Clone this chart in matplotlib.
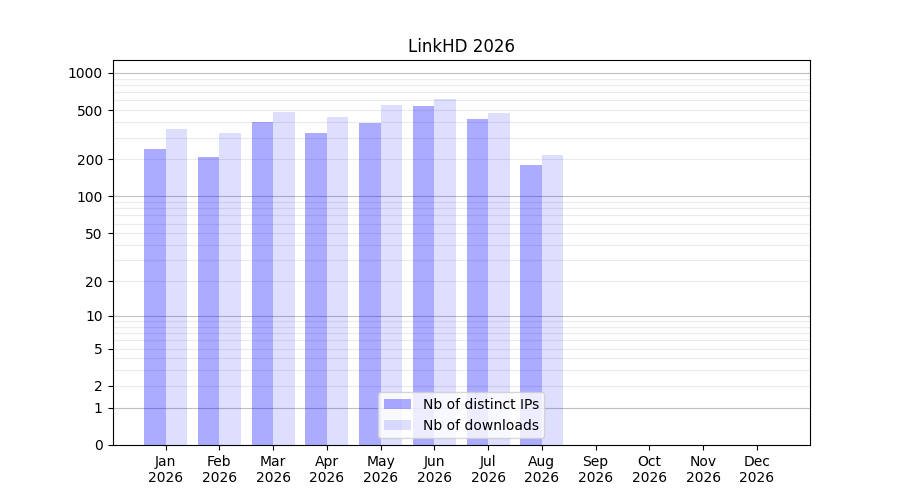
import matplotlib
matplotlib.use("Agg")
import matplotlib.pyplot as plt
from matplotlib.ticker import FixedLocator, NullFormatter
import numpy as np

months = ["Jan", "Feb", "Mar", "Apr", "May", "Jun",
          "Jul", "Aug", "Sep", "Oct", "Nov", "Dec"]
year = "2026"
ips = [243, 209, 402, 326, 394, 541, 425, 180]
downloads = [353, 327, 483, 441, 551, 616, 475, 217]

fig, ax = plt.subplots(figsize=(9, 5), dpi=100)

ax.set_yscale("function", functions=(lambda v: np.log10(1 + np.maximum(v, 0)),
                                     lambda v: 10 ** v - 1))

x = np.arange(len(months))
n = len(ips)
ax.bar(x[:n] - 0.2, ips, width=0.4, color="blue", alpha=0.33,
       label="Nb of distinct IPs", zorder=2)
ax.bar(x[:n] + 0.2, downloads, width=0.4, color="blue", alpha=0.13,
       label="Nb of downloads", zorder=2)

ax.set_xticks(x)
ax.set_xticklabels([m + "\n" + year for m in months])
ax.set_xlim(-0.99, 11.99)

ax.set_ylim(0, 1273)
ax.yaxis.set_major_locator(FixedLocator([0, 1, 2, 5, 10, 20, 50, 100, 200, 500, 1000]))
minor = [m * 10 ** e for e in range(0, 4) for m in range(2, 10)]
ax.yaxis.set_minor_locator(FixedLocator(minor))
ax.yaxis.set_minor_formatter(NullFormatter())
ax.tick_params(axis="y", which="minor", length=0)

# major / minor grid
for v in [1, 10, 100, 1000]:
    ax.axhline(v, color="#c0c0c0", linewidth=0.8, zorder=1)
for v in minor:
    ax.axhline(v, color="#ebebeb", linewidth=0.8, zorder=1)

ax.set_title("LinkHD 2026")
ax.legend(loc="lower center")

fig.savefig("out.png")
